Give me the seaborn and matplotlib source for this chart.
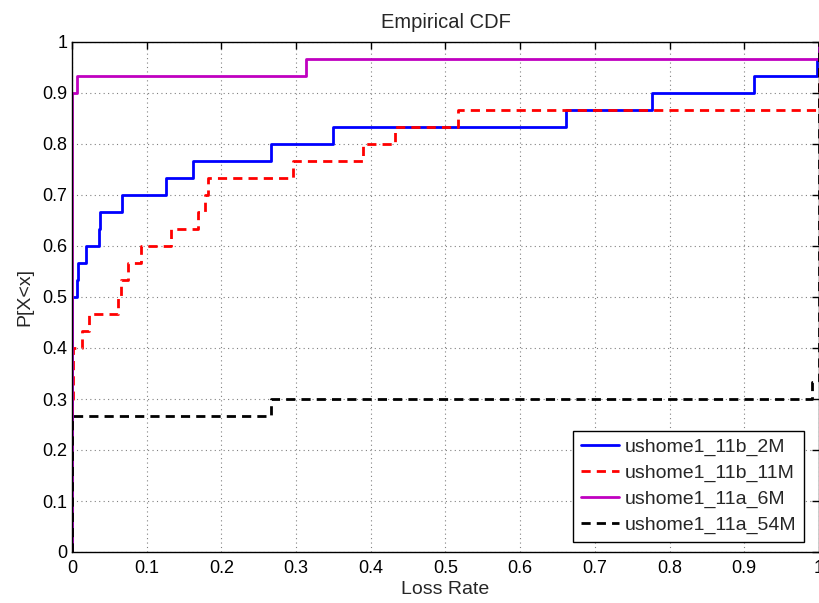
import numpy as np
import pandas as pd
import matplotlib
matplotlib.use("Agg")
import matplotlib.pyplot as plt
import seaborn as sns

# Loss-rate samples per trace (30 samples each)
b2m = [0.0] * 15 + [0.0063, 0.0085, 0.0187, 0.0366, 0.038, 0.0665, 0.126, 0.162,
                    0.266, 0.349, 0.661, 0.777, 0.913, 0.997, 1.0]
b11m = [0.0] * 9 + [0.002] * 3 + [0.013, 0.023, 0.062, 0.0656, 0.0754, 0.093, 0.1325,
                                  0.169, 0.178, 0.1825, 0.296, 0.39, 0.433, 0.517] + [1.0] * 4
a6m = [0.0] * 27 + [0.0063, 0.313, 1.0]
a54m = [0.0] * 8 + [0.267, 0.99] + [1.0] * 20

labels = ["ushome1_11b_2M", "ushome1_11b_11M", "ushome1_11a_6M", "ushome1_11a_54M"]
series = [b2m, b11m, a6m, a54m]
colors = ["#0000ff", "#ff0000", "#c000c0", "#000000"]
styles = ["-", (0, (3.3, 2.2)), "-", (0, (3.3, 2.2))]

ticks = [0, 0.1, 0.2, 0.3, 0.4, 0.5, 0.6, 0.7, 0.8, 0.9, 1]
tick_labels = ["0", "0.1", "0.2", "0.3", "0.4", "0.5", "0.6", "0.7", "0.8", "0.9", "1"]

sns.set_theme(style="white")
plt.rcParams["font.family"] = ["Liberation Sans", "DejaVu Sans"]

fig = plt.figure(figsize=(8.2, 6.03), dpi=100)
ax = fig.add_axes([72 / 820, (603 - 552) / 603, (819 - 72) / 820, (552 - 42) / 603])

for vals, lab, col, ls in zip(series, labels, colors, styles):
    df = pd.DataFrame({"loss": vals})
    sns.ecdfplot(data=df, x="loss", ax=ax, color=col, linestyle=ls, linewidth=2.0, label=lab)

ax.set_xlim(0, 1)
ax.set_ylim(0, 1)
ax.set_xticks(ticks)
ax.set_xticklabels(tick_labels)
ax.set_yticks(ticks)
ax.set_yticklabels(tick_labels)
ax.grid(True, linestyle=(0, (1, 3)), color="#808080", linewidth=0.8)
ax.tick_params(direction="in", length=5, width=1, top=True, right=True,
               labelsize=13, colors="black")
ax.tick_params(axis="x", pad=6)
ax.tick_params(axis="y", pad=3.5)
for s in ax.spines.values():
    s.set_color("black")
    s.set_linewidth(1.0)
    s.set_visible(True)

ax.set_title("Empirical CDF", fontsize=14.5, pad=10)
ax.set_xlabel("Loss Rate", fontsize=14, labelpad=2.5)
ax.set_ylabel("P[X<x]", fontsize=14, labelpad=6)

leg = ax.legend(loc="lower right", bbox_to_anchor=(0.98, 0.0196), borderaxespad=0,
                fontsize=14, frameon=True, fancybox=False,
                edgecolor="black", framealpha=1, handlelength=2.0, borderpad=0.4,
                labelspacing=0.42, handletextpad=0.27)
leg.get_frame().set_linewidth(1.0)

fig.savefig("out.png", dpi=100)
